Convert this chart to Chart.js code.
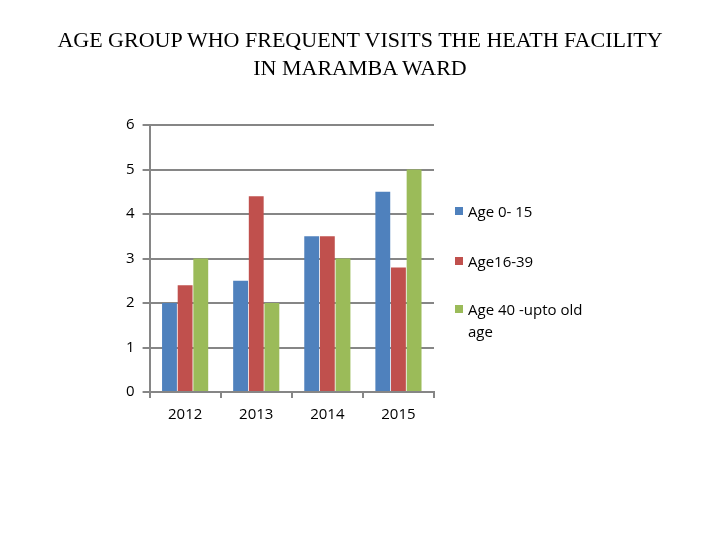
<!DOCTYPE html>
<html>
<head>
<meta charset="utf-8">
<script src="https://cdn.jsdelivr.net/npm/chart.js@4"></script>
<style>
  body { margin: 0; background: #fff; }
  #wrap { position: relative; width: 720px; height: 540px; }
  #title { position: absolute; left: 0; top: 26px; width: 720px; text-align: center; font-family: "Liberation Serif", serif; font-size: 22px; line-height: 28px; color: #000; }
  #legend { position: absolute; left: 455px; top: 200px; font-family: "Open Sans", "Noto Sans", sans-serif; font-size: 15px; color: #000; }
  .item { position: absolute; left: 0; width: 140px; padding-left: 13px; line-height: 22px; }
  .sw { position: absolute; left: 0; top: 7px; width: 8px; height: 8px; }
</style>
</head>
<body>
<div id="wrap">
  <canvas id="myBarChart"></canvas>
  <div id="title"></div>
  <div id="legend"></div>
</div>
<script>
const years = ["2012", "2013", "2014", "2015"];
const seriesNames = ["Age 0- 15", "Age16-39", "Age 40 -upto old age"];
const age0to15 = [2, 2.5, 3.5, 4.5];
const age16to39 = [2.4, 4.4, 3.5, 2.8];
const age40up = [3, 2, 3, 5];
const colors = ["#4F81BD", "#C0504D", "#9BBB59"];
const titleLines = ["AGE GROUP WHO FREQUENT VISITS THE HEATH FACILITY", "IN MARAMBA WARD"];

document.addEventListener("DOMContentLoaded", function () {
  const ctx = document.getElementById("myBarChart").getContext("2d");
  ctx.canvas.width = 720;
  ctx.canvas.height = 540;

  const values = [age0to15, age16to39, age40up];
  const datasets = values.map((v, i) => ({
    label: seriesNames[i],
    data: v,
    backgroundColor: colors[i],
    borderWidth: 0,
  }));

  new Chart(ctx, {
    type: "bar",
    data: { labels: years, datasets: datasets },
    options: {
      responsive: false,
      animation: false,
      barPercentage: 0.95,
      categoryPercentage: 0.66,
      layout: { padding: { top: 125, right: 286, bottom: 108, left: 118 } },
      plugins: {
        legend: { display: false },
        tooltip: { enabled: false },
      },
      scales: {
        x: {
          grid: { drawOnChartArea: false, drawTicks: true, tickLength: 6, color: "#868686", lineWidth: 2 },
          border: { color: "#868686", width: 2 },
          ticks: { color: "#000", font: { family: "Open Sans", size: 15 }, padding: 8 },
        },
        y: {
          min: 0,
          max: 6,
          grid: { color: "#868686", lineWidth: 2, tickLength: 7 },
          border: { color: "#868686", width: 2 },
          ticks: { stepSize: 1, color: "#000", font: { family: "Open Sans", size: 15 }, padding: 8 },
        },
      },
    },
  });

  document.getElementById("title").innerHTML = titleLines.join("<br>");

  const legend = document.getElementById("legend");
  const tops = [0, 50, 98];
  seriesNames.forEach((name, i) => {
    const div = document.createElement("div");
    div.className = "item";
    div.style.top = tops[i] + "px";
    div.innerHTML = '<span class="sw" style="background:' + colors[i] + '"></span>' + name;
    legend.appendChild(div);
  });
});
</script>
</body>
</html>
